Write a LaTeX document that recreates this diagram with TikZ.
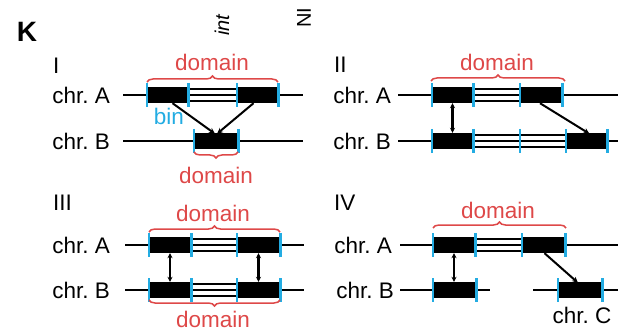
\documentclass[tikz,border=0pt]{standalone}
\usepackage{fontspec}
\setmainfont{Liberation Sans}
\frenchspacing
\usetikzlibrary{arrows.meta,calc,decorations.pathreplacing}
\definecolor{domred}{RGB}{222,72,72}
\definecolor{binblue}{RGB}{35,172,226}
\newcommand\tk[1]{\draw[bintick] ($#1+(0,-12)$) -- ($#1+(0,12)$);}
\newcommand\ladder[2]{\draw[ladderline] ($#1+(0,-6)$) -- ($#2+(0,-6)$);\draw[ladderline] ($#1+(0,6)$) -- ($#2+(0,6)$);}
\tikzset{
  chrline/.style={line width=2pt,black},
  ladderline/.style={line width=1.1pt,black},
  blk/.style={fill=black,draw=none,inner sep=0pt,minimum height=16pt},
  bintick/.style={binblue,line width=2.6pt},
  dombrace/.style={domred,line width=1.5pt,decorate,decoration={brace,amplitude=6pt}},
  txt/.style={inner sep=0pt,font=\fontsize{22.5}{25}\selectfont},
  domlab/.style={txt,text=domred},
  arr/.style={line width=2pt,-{Stealth[length=6pt,width=5.5pt]}},
  darr/.style={line width=2.2pt,{Stealth[length=5pt,width=5pt]}-{Stealth[length=5pt,width=5pt]}}
}
\begin{document}
\begin{tikzpicture}[x=1pt,y=-1pt]
\useasboundingbox (0,0) rectangle (618,331);
% header
\node[inner sep=0pt,font=\fontsize{28}{30}\selectfont\bfseries] (K) at (27,32) {K};
\node[txt,rotate=90,anchor=west,font=\fontsize{20}{22}\selectfont\itshape] (int) at (222,36) {int};
\node[txt,rotate=90,anchor=west,font=\fontsize{20}{22}\selectfont] (NI) at (304,28) {NI};

% ===== Panel I =====
\node[txt,anchor=west] (lI) at (53,66) {I};
\node[txt,anchor=east] (IA) at (110,95) {chr. A};
\node[txt,anchor=east] (IB) at (110,141) {chr. B};
\node[blk,minimum width=41pt] (a1) at (167.5,95) {};
\node[blk,minimum width=41pt] (a2) at (257.5,95) {};
\node[blk,minimum width=44pt] (b1) at (216,141) {};
\coordinate (IAl) at (123,95); \coordinate (IAr) at (303,95);
\coordinate (IBl) at (123,141); \coordinate (IBr) at (303,141);
\draw[chrline] (IAl) -- (IAr);
\draw[chrline] (IBl) -- (IBr);
\ladder{(a1.east)}{(a2.west)}
\tk{(a1.west)}\tk{(a1.east)}\tk{(a2.west)}\tk{(a2.east)}
\tk{(b1.west)}\tk{(b1.east)}
\draw[dombrace] (147,82) -- (278,82);
\draw[dombrace] (238,152) -- (194,152);
\node[domlab] (dI1) at (212,62) {domain};
\node[domlab] (dI2) at (216,175) {domain};
\node[txt,text=binblue] (bin) at (169,116) {bin};
\draw[arr] ($(a1.south)+(5,0)$) -- ($(b1.north)+(-1,1)$);
\draw[arr] ($(a2.south)+(-4,0)$) -- ($(b1.north)+(1,1)$);

% ===== Panel II =====
\node[txt,anchor=west] (lII) at (334,65) {II};
\node[txt,anchor=east] (IIA) at (391,95) {chr. A};
\node[txt,anchor=east] (IIB) at (391,141) {chr. B};
\node[blk,minimum width=41pt] (c1) at (452.5,95) {};
\node[blk,minimum width=42pt] (c2) at (541,95) {};
\node[blk,minimum width=41pt] (d1) at (452.5,141) {};
\node[blk,minimum width=41pt] (d2) at (586.5,141) {};
\coordinate (dm) at (520,141);
\coordinate (IIAl) at (398,95); \coordinate (IIAr) at (618,95);
\coordinate (IIBl) at (398,141); \coordinate (IIBr) at (618,141);
\draw[chrline] (IIAl) -- (IIAr);
\draw[chrline] (IIBl) -- (IIBr);
\ladder{(c1.east)}{(c2.west)}
\ladder{(d1.east)}{(dm)}
\ladder{(dm)}{(d2.west)}
\tk{(c1.west)}\tk{(c1.east)}\tk{(c2.west)}\tk{(c2.east)}
\tk{(d1.west)}\tk{(d1.east)}\tk{(dm)}\tk{(d2.west)}\tk{(d2.east)}
\draw[dombrace] (431,81) -- (565,81);
\node[domlab] (dII) at (497,62) {domain};
\draw[darr] (c1.south) -- (d1.north);
\draw[arr] ($(c2.south)+(-1,0)$) -- ($(d2.north)+(3,1)$);

% ===== Panel III =====
\node[txt,anchor=west] (lIII) at (53,203) {III};
\node[txt,anchor=east] (IIIA) at (110,245) {chr. A};
\node[txt,anchor=east] (IIIB) at (110,290) {chr. B};
\node[blk,minimum width=42pt] (e1) at (170,245) {};
\node[blk,minimum width=43pt] (e2) at (258.5,245) {};
\node[blk,minimum width=42pt] (f1) at (170,290) {};
\node[blk,minimum width=43pt] (f2) at (258.5,290) {};
\coordinate (IIIAl) at (125,245); \coordinate (IIIAr) at (304,245);
\coordinate (IIIBl) at (125,290); \coordinate (IIIBr) at (304,290);
\draw[chrline] (IIIAl) -- (IIIAr);
\draw[chrline] (IIIBl) -- (IIIBr);
\ladder{(e1.east)}{(e2.west)}
\ladder{(f1.east)}{(f2.west)}
\tk{(e1.west)}\tk{(e1.east)}\tk{(e2.west)}\tk{(e2.east)}
\tk{(f1.west)}\tk{(f1.east)}\tk{(f2.west)}\tk{(f2.east)}
\draw[dombrace] (149,232) -- (280,232);
\draw[dombrace] (280,300) -- (149,300);
\node[domlab] (dIII1) at (213,213) {domain};
\node[domlab] (dIII2) at (213,319) {domain};
\draw[darr] (e1.south) -- (f1.north);
\draw[darr] (e2.south) -- (f2.north);

% ===== Panel IV =====
\node[txt,anchor=west] (lIV) at (334,203) {IV};
\node[txt,anchor=east] (IVA) at (392,245) {chr. A};
\node[txt,anchor=east] (IVB) at (394,290) {chr. B};
\node[blk,minimum width=42pt] (g1) at (454,245) {};
\node[blk,minimum width=43pt] (g2) at (543.5,245) {};
\node[blk,minimum width=43pt] (h1) at (454.5,290) {};
\node[blk,minimum width=44pt] (h2) at (580,290) {};
\coordinate (IVAl) at (400,245); \coordinate (IVAr) at (618,245);
\coordinate (IVBl) at (400,290); \coordinate (IVBr) at (490,290);
\coordinate (IVCl) at (533,290); \coordinate (IVCr) at (618,290);
\draw[chrline] (IVAl) -- (IVAr);
\draw[chrline] (IVBl) -- (IVBr);
\draw[chrline] (IVCl) -- (IVCr);
\ladder{(g1.east)}{(g2.west)}
\tk{(g1.west)}\tk{(g1.east)}\tk{(g2.west)}\tk{(g2.east)}
\tk{(h1.west)}\tk{(h1.east)}\tk{(h2.west)}\tk{(h2.east)}
\draw[dombrace] (433,228) -- (566,228);
\node[domlab] (dIV) at (498,210) {domain};
\node[txt] (IVC) at (582,315) {chr. C};
\draw[darr] (g1.south) -- (g1.south |- h1.north);
\draw[arr] ($(g2.south)+(1,0)$) -- ($(h2.north)+(-2,1)$);
\end{tikzpicture}
\end{document}
